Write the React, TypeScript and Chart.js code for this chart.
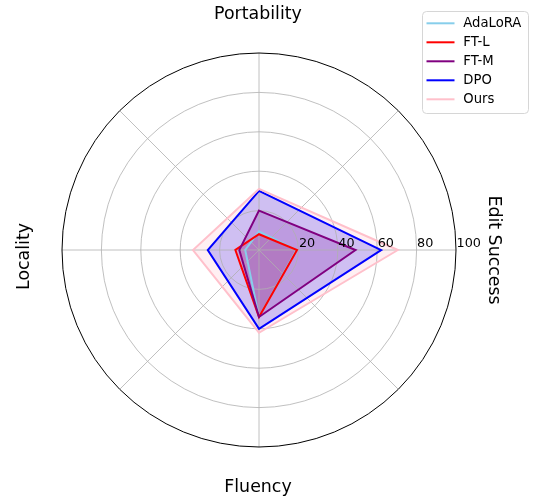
import React, { useEffect, useRef } from 'react';
import { Chart, registerables } from 'chart.js';

Chart.register(...registerables);

// Axes in Chart.js clockwise order starting at the top
const axisLabels = ['Portability', 'Edit Success', 'Fluency', 'Locality'];
const seriesNames = ['AdaLoRA', 'FT-L', 'FT-M', 'DPO', 'Ours'];
const seriesColors = ['#87ceeb', '#ff0000', '#800080', '#0000ff', '#ffc0cb'];
const adaloraValues = [9.5, 19, 34, 7];
const ftlValues = [8, 19.3, 34, 12];
const ftmValues = [20, 49, 34, 10];
const dpoValues = [30, 62, 40, 26];
const oursValues = [31, 70.5, 42, 33.5];
const radialTicks = [20, 40, 60, 80, 100];

const seriesValues = [adaloraValues, ftlValues, ftmValues, dpoValues, oursValues];

const FONT = '"DejaVu Sans", sans-serif';

function withAlpha(hex: string, a: number): string {
  const r = parseInt(hex.slice(1, 3), 16);
  const g = parseInt(hex.slice(3, 5), 16);
  const b = parseInt(hex.slice(5, 7), 16);
  return `rgba(${r},${g},${b},${a})`;
}

const decorPlugin = {
  id: 'decor',
  beforeDatasetsDraw(chart: any) {
    // grid drawn above the fills (which the filler plugin already drew) and below the lines
    const s = chart.scales.r;
    const ctx = chart.ctx as CanvasRenderingContext2D;
    const R = s.getDistanceFromCenterForValue(100);
    ctx.save();
    ctx.strokeStyle = '#b0b0b0';
    ctx.lineWidth = 0.8;
    for (let k = 0; k < 8; k++) {
      const a = (k * Math.PI) / 4;
      ctx.beginPath();
      ctx.moveTo(s.xCenter, s.yCenter);
      ctx.lineTo(s.xCenter + R * Math.cos(a), s.yCenter - R * Math.sin(a));
      ctx.stroke();
    }
    radialTicks.forEach((v) => {
      const d = s.getDistanceFromCenterForValue(v);
      ctx.beginPath();
      ctx.arc(s.xCenter, s.yCenter, d, 0, Math.PI * 2);
      if (v === 100) {
        ctx.strokeStyle = '#000000';
        ctx.lineWidth = 1;
      } else {
        ctx.strokeStyle = '#b0b0b0';
        ctx.lineWidth = 0.8;
      }
      ctx.stroke();
    });
    ctx.restore();
  },
  afterDraw(chart: any) {
    const s = chart.scales.r;
    const ctx = chart.ctx as CanvasRenderingContext2D;
    ctx.save();
    // radial tick labels
    ctx.fillStyle = '#000';
    ctx.font = `12.8px ${FONT}`;
    ctx.textAlign = 'left';
    ctx.textBaseline = 'alphabetic';
    radialTicks.forEach((v) => {
      const d = s.getDistanceFromCenterForValue(v);
      ctx.fillText(String(v), s.xCenter + d + 0.5, s.yCenter - 3);
    });

    // axis titles
    ctx.font = `17.4px ${FONT}`;
    ctx.textAlign = 'center';
    ctx.textBaseline = 'alphabetic';
    ctx.fillText(axisLabels[0], 258, 18.5);
    ctx.fillText(axisLabels[2], 258, 491.5);
    ctx.save();
    ctx.translate(488.5, 250);
    ctx.rotate(Math.PI / 2);
    ctx.fillText(axisLabels[1], 0, 0);
    ctx.restore();
    ctx.save();
    ctx.translate(28.5, 256.5);
    ctx.rotate(-Math.PI / 2);
    ctx.fillText(axisLabels[3], 0, 0);
    ctx.restore();

    // legend
    const bx = 422.5, by = 11.5, bw = 106, bh = 102, rad = 4;
    ctx.beginPath();
    ctx.moveTo(bx + rad, by);
    ctx.lineTo(bx + bw - rad, by);
    ctx.arcTo(bx + bw, by, bx + bw, by + rad, rad);
    ctx.lineTo(bx + bw, by + bh - rad);
    ctx.arcTo(bx + bw, by + bh, bx + bw - rad, by + bh, rad);
    ctx.lineTo(bx + rad, by + bh);
    ctx.arcTo(bx, by + bh, bx, by + bh - rad, rad);
    ctx.lineTo(bx, by + rad);
    ctx.arcTo(bx, by, bx + rad, by, rad);
    ctx.closePath();
    ctx.fillStyle = 'rgba(255,255,255,0.8)';
    ctx.fill();
    ctx.strokeStyle = '#d6d6d6';
    ctx.lineWidth = 1;
    ctx.stroke();

    ctx.font = `13.2px ${FONT}`;
    ctx.textAlign = 'left';
    ctx.textBaseline = 'middle';
    seriesNames.forEach((name, i) => {
      const y = 23.3 + 19 * i;
      ctx.strokeStyle = seriesColors[i];
      ctx.lineWidth = 2;
      ctx.beginPath();
      ctx.moveTo(426.5, y);
      ctx.lineTo(454.5, y);
      ctx.stroke();
      ctx.fillStyle = '#000';
      ctx.fillText(name, 463.3, y + 0.5);
    });
    ctx.restore();
  },
};

export default function App() {
  const canvasRef = useRef<HTMLCanvasElement | null>(null);

  useEffect(() => {
    if (!canvasRef.current) return;
    const datasets = seriesNames.map((name, i) => ({
      label: name,
      data: seriesValues[i],
      borderColor: seriesColors[i],
      backgroundColor: withAlpha(seriesColors[i], 0.25),
      borderWidth: 2,
      pointRadius: 0,
      pointHoverRadius: 0,
      fill: true,
      tension: 0,
      order: seriesNames.length - 1 - i,
    }));
    const chart = new Chart(canvasRef.current, {
      type: 'radar',
      data: { labels: axisLabels, datasets },
      options: {
        responsive: false,
        animation: false,
        events: [],
        layout: { padding: { left: 62, top: 53, right: 78, bottom: 52 } },
        plugins: {
          legend: { display: false },
          tooltip: { enabled: false },
          filler: { drawTime: 'beforeDatasetsDraw' },
        },
        scales: {
          r: {
            min: 0,
            max: 100,
            ticks: { display: false, stepSize: 20 },
            pointLabels: { display: false },
            angleLines: { display: false },
            grid: { display: false },
          },
        },
      },
      plugins: [decorPlugin],
    });
    return () => chart.destroy();
  }, []);

  return (
    <div style={{ position: 'absolute', left: 0, top: 0, width: 534, height: 499, background: '#fff' }}>
      <canvas ref={canvasRef} width={534} height={499} style={{ display: 'block' }} />
    </div>
  );
}
